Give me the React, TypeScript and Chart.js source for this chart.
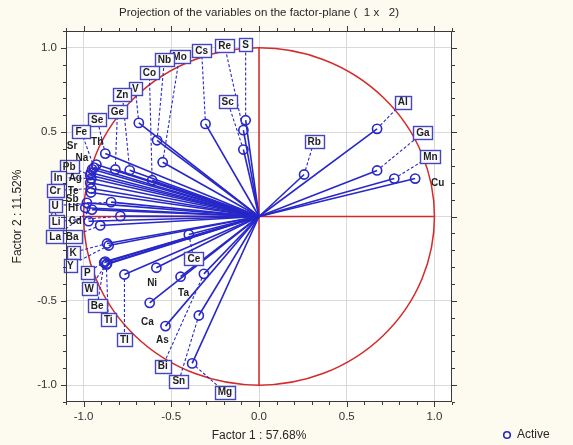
import { useEffect, useRef } from "react";
import { Chart, registerables } from "chart.js";

Chart.register(...registerables);

// ---------- data ----------
const variableNames = [
  "Al", "Ga", "Mn", "Cu", "Rb",
  "S", "Re", "Sc", "Cs",
  "Mo", "Nb", "Co", "V", "Zn", "Ge",
  "Se", "Th", "Fe", "Sr", "Na", "Pb", "In", "Ag", "Cr", "Te", "U", "Sb", "Hf",
  "Li", "Cd", "La", "Ba", "K", "Y", "P", "W", "Be", "Ti", "Tl",
  "Ni", "Ce", "Ta", "Bi", "Sn", "Mg", "Ca", "As",
];
const factor1Coords = [
  0.673, 0.673, 0.771, 0.89, 0.257,
  -0.076, -0.089, -0.089, -0.305,
  -0.549, -0.581, -0.609, -0.685, -0.737, -0.819,
  -0.876, -0.927, -0.94, -0.951, -0.958, -0.962, -0.956, -0.962, -0.956, -0.958, -0.843, -0.981, -0.99,
  -0.79, -0.971, -0.952, -0.905, -0.866, -0.857, -0.876, -0.866, -0.882, -0.87, -0.767,
  -0.585, -0.4, -0.447, -0.314, -0.343, -0.381, -0.623, -0.533,
];
const factor2Coords = [
  0.52, 0.273, 0.225, 0.225, 0.249,
  0.571, 0.512, 0.397, 0.549,
  0.322, 0.452, 0.215, 0.555, 0.274, 0.279,
  0.373, 0.308, 0.29, 0.28, 0.259, 0.245, 0.225, 0.2, 0.166, 0.142, 0.085, 0.081, 0.052,
  0.002, -0.028, 0.041, -0.053, -0.16, -0.172, -0.267, -0.279, -0.273, -0.285, -0.344,
  -0.304, -0.107, -0.357, -0.34, -0.587, -0.871, -0.512, -0.65,
];
// where each variable's name is written (factor-plane units)
const labelFactor1 = [
  0.819, 0.934, 0.977, 1.019, 0.314,
  -0.076, -0.196, -0.179, -0.327,
  -0.453, -0.539, -0.625, -0.705, -0.779, -0.807,
  -0.922, -0.922, -1.013, -1.065, -1.009, -1.082, -1.145, -1.047, -1.162, -1.059, -1.162, -1.065, -1.059,
  -1.156, -1.047, -1.162, -1.065, -1.059, -1.076, -0.979, -0.968, -0.922, -0.859, -0.767,
  -0.609, -0.371, -0.43, -0.549, -0.457, -0.194, -0.636, -0.55,
];
const labelFactor2 = [
  0.678, 0.496, 0.357, 0.2, 0.446,
  1.02, 1.014, 0.682, 0.984,
  0.948, 0.931, 0.854, 0.759, 0.723, 0.622,
  0.575, 0.445, 0.504, 0.421, 0.35, 0.296, 0.231, 0.231, 0.154, 0.154, 0.065, 0.107, 0.053,
  -0.03, -0.024, -0.119, -0.119, -0.213, -0.29, -0.332, -0.427, -0.528, -0.611, -0.729,
  -0.393, -0.251, -0.45, -0.887, -0.976, -1.041, -0.622, -0.729,
];
const labelBoxed = [
  true, true, true, false, true,
  true, true, true, true,
  true, true, true, true, true, true,
  true, false, true, false, false, true, true, false, true, false, true, false, false,
  true, false, true, true, true, true, true, true, true, true, true,
  false, true, false, true, true, true, false, false,
];

const xTickValues = [-1, -0.5, 0, 0.5, 1];
const xTickLabels = ["-1.0", "-0.5", "0.0", "0.5", "1.0"];
const yTickValues = [-1, -0.5, 0, 0.5, 1];
const yTickLabels = ["-1.0", "-0.5", "0", "0.5", "1.0"];

const TITLE = "Projection of the variables on the factor-plane (  1 x   2)";
const X_TITLE = "Factor 1 : 57.68%";
const Y_TITLE = "Factor 2 : 11.52%";
const LEGEND_LABEL = "Active";

// ---------- style ----------
const FONT = '"Liberation Sans", Arial, sans-serif';
const BLUE = "#2828c8";
const BOX_BLUE = "#4646bc";
const RED = "#d42a2a";
const POINT_R = 4.6;

const decorPlugin = {
  id: "decor",
  beforeDraw(chart: any) {
    const { ctx, chartArea: a, width, height } = chart;
    ctx.save();
    ctx.fillStyle = "#fdfaf0";
    ctx.fillRect(0, 0, width, height);
    ctx.fillStyle = "#ffffff";
    ctx.fillRect(a.left, a.top, a.right - a.left, a.bottom - a.top);
    ctx.restore();
  },
  beforeDatasetsDraw(chart: any) {
    const { ctx } = chart;
    const xs = chart.scales.x;
    const ys = chart.scales.y;
    const cx = xs.getPixelForValue(0);
    const cy = ys.getPixelForValue(0);
    const rx = xs.getPixelForValue(1) - cx;
    const ry = cy - ys.getPixelForValue(1);
    ctx.save();
    ctx.strokeStyle = RED;
    ctx.lineWidth = 1.5;
    ctx.beginPath();
    ctx.ellipse(cx, cy, rx, ry, 0, 0, Math.PI * 2);
    ctx.stroke();
    ctx.beginPath();
    ctx.moveTo(cx, ys.getPixelForValue(1));
    ctx.lineTo(cx, ys.getPixelForValue(-1));
    ctx.moveTo(xs.getPixelForValue(-1), cy);
    ctx.lineTo(xs.getPixelForValue(1), cy);
    ctx.stroke();
    ctx.restore();
  },
  afterDatasetsDraw(chart: any) {
    const { ctx, chartArea: a } = chart;
    const xs = chart.scales.x;
    const ys = chart.scales.y;
    ctx.save();

    // leader lines
    ctx.strokeStyle = BLUE;
    ctx.lineWidth = 1.1;
    ctx.setLineDash([3, 2]);
    variableNames.forEach((_, i) => {
      if (!labelBoxed[i]) return;
      const px = xs.getPixelForValue(factor1Coords[i]);
      const py = ys.getPixelForValue(factor2Coords[i]);
      const lx = xs.getPixelForValue(labelFactor1[i]);
      const ly = ys.getPixelForValue(labelFactor2[i]);
      const d = Math.hypot(lx - px, ly - py);
      if (d < POINT_R + 1) return;
      ctx.beginPath();
      ctx.moveTo(px + ((lx - px) / d) * POINT_R, py + ((ly - py) / d) * POINT_R);
      ctx.lineTo(lx, ly);
      ctx.stroke();
    });
    ctx.setLineDash([]);

    // labels
    ctx.font = `bold 10px ${FONT}`;
    ctx.textAlign = "center";
    ctx.textBaseline = "middle";
    variableNames.forEach((name, i) => {
      const lx = xs.getPixelForValue(labelFactor1[i]);
      const ly = ys.getPixelForValue(labelFactor2[i]);
      if (labelBoxed[i]) {
        const tw = ctx.measureText(name).width;
        const w = Math.round(tw + 6);
        const h = 13;
        const bx = Math.round(lx - w / 2) + 0.5;
        const by = Math.round(ly - h / 2) + 0.5;
        ctx.fillStyle = "#fbfbff";
        ctx.fillRect(bx, by, w, h);
        ctx.strokeStyle = BOX_BLUE;
        ctx.lineWidth = 1.4;
        ctx.strokeRect(bx, by, w, h);
      }
      ctx.fillStyle = "#1e1e1e";
      ctx.fillText(name, lx, ly + 0.5);
    });

    // frame
    ctx.strokeStyle = "#3a3a3a";
    ctx.lineWidth = 1;
    ctx.strokeRect(Math.round(a.left) + 0.5, Math.round(a.top) + 0.5, Math.round(a.right - a.left) - 1, Math.round(a.bottom - a.top) - 1);

    // outward tick marks (major every 0.5, minor every 0.1)
    ctx.beginPath();
    for (let k = -11; k <= 11; k++) {
      const v = k / 10;
      const len = k % 5 === 0 ? 5 : 3;
      const x = Math.round(xs.getPixelForValue(v)) + 0.5;
      const y = Math.round(ys.getPixelForValue(v)) + 0.5;
      ctx.moveTo(x, a.bottom);
      ctx.lineTo(x, a.bottom + len);
      ctx.moveTo(x, a.top);
      ctx.lineTo(x, a.top - len);
      ctx.moveTo(a.left, y);
      ctx.lineTo(a.left - len, y);
      ctx.moveTo(a.right, y);
      ctx.lineTo(a.right + len, y);
    }
    ctx.stroke();

    // titles
    ctx.fillStyle = "#262626";
    ctx.font = `11.5px ${FONT}`;
    ctx.textAlign = "center";
    ctx.textBaseline = "middle";
    const midX = (a.left + a.right) / 2;
    ctx.fillText(TITLE, midX, 13);
    ctx.font = `12px ${FONT}`;
    ctx.fillText(X_TITLE, midX, 436);
    ctx.save();
    ctx.translate(18, (a.top + a.bottom) / 2);
    ctx.rotate(-Math.PI / 2);
    ctx.fillText(Y_TITLE, 0, 0);
    ctx.restore();

    // legend
    ctx.strokeStyle = BLUE;
    ctx.lineWidth = 1.6;
    ctx.beginPath();
    ctx.arc(507, 435, 3.3, 0, Math.PI * 2);
    ctx.stroke();
    ctx.textAlign = "left";
    ctx.fillStyle = "#262626";
    ctx.fillText(LEGEND_LABEL, 517, 435);

    ctx.restore();
  },
};

export default function App() {
  const canvasRef = useRef<HTMLCanvasElement | null>(null);

  useEffect(() => {
    const canvas = canvasRef.current;
    if (!canvas) return;

    const lineSets = variableNames.map((name, i) => ({
      label: name,
      data: [
        { x: 0, y: 0 },
        { x: factor1Coords[i], y: factor2Coords[i] },
      ],
      showLine: true,
      borderColor: BLUE,
      borderWidth: 1.6,
      pointRadius: 0,
      pointHoverRadius: 0,
    }));

    const pointSet = {
      label: LEGEND_LABEL,
      data: variableNames.map((_, i) => ({ x: factor1Coords[i], y: factor2Coords[i] })),
      showLine: false,
      pointRadius: POINT_R,
      pointBorderWidth: 1.6,
      pointBorderColor: BLUE,
      pointBackgroundColor: "rgba(0,0,0,0)",
    };

    const chart = new Chart(canvas, {
      type: "scatter",
      data: { datasets: [...lineSets, pointSet] as any },
      options: {
        animation: false,
        responsive: false,
        events: [],
        layout: { padding: { top: 31, left: 10, right: 121, bottom: 0 } },
        plugins: {
          legend: { display: false },
          title: { display: false },
          tooltip: { enabled: false },
        },
        scales: {
          x: {
            type: "linear",
            min: -1.1,
            max: 1.1,
            afterBuildTicks: (scale: any) => {
              scale.ticks = xTickValues.map((v) => ({ value: v }));
            },
            afterFit: (scale: any) => {
              scale.height = 43;
            },
            ticks: {
              callback: (_v: any, idx: number) => xTickLabels[idx],
              font: { family: FONT, size: 11.5 },
              color: "#333333",
              padding: 8,
              maxRotation: 0,
            },
            grid: { color: "#d9d9d9", lineWidth: 1, drawTicks: false },
            border: { display: false },
          },
          y: {
            type: "linear",
            min: -1.1,
            max: 1.1,
            afterBuildTicks: (scale: any) => {
              scale.ticks = yTickValues.map((v) => ({ value: v }));
            },
            afterFit: (scale: any) => {
              scale.width = 56;
            },
            ticks: {
              callback: (_v: any, idx: number) => yTickLabels[idx],
              font: { family: FONT, size: 11.5 },
              color: "#333333",
              padding: 9,
            },
            grid: { color: "#d9d9d9", lineWidth: 1, drawTicks: false },
            border: { display: false },
          },
        },
      },
      plugins: [decorPlugin],
    });

    return () => chart.destroy();
  }, []);

  return (
    <div style={{ position: "absolute", left: 0, top: 0, width: 573, height: 445 }}>
      <canvas ref={canvasRef} width={573} height={445} style={{ display: "block" }} />
    </div>
  );
}
